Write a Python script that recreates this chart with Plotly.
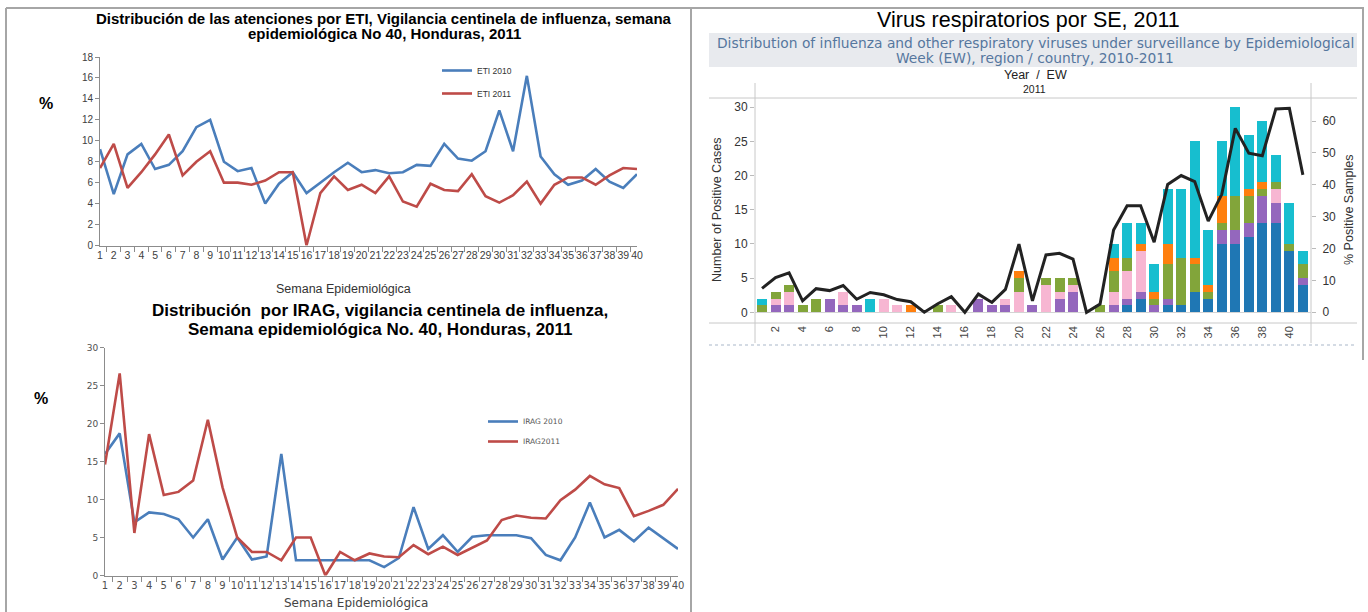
import plotly.graph_objects as go

W, H = 1368, 612


def PX(x):
    return x / W


def PY(y):
    return 1 - y / H


# ---------------- data: ETI (top-left) ----------------
weeks_40 = list(range(1, 41))
eti_2010 = [9.2, 4.9, 8.7, 9.7, 7.3, 7.7, 9.0, 11.3, 12.0, 8.0,
            7.1, 7.4, 4.0, 5.9, 7.0, 5.0, 6.0, 7.0, 7.9, 7.0,
            7.2, 6.9, 7.0, 7.7, 7.6, 9.7, 8.3, 8.1, 9.0, 12.9,
            9.0, 16.2, 8.5, 6.8, 5.8, 6.2, 7.3, 6.1, 5.5, 6.8]
eti_2011 = [7.4, 9.7, 5.5, 7.0, 8.7, 10.6, 6.7, 8.0, 9.0, 6.0,
            6.0, 5.8, 6.2, 7.0, 7.0, 0.0, 5.0, 6.6, 5.3, 5.8,
            5.0, 6.6, 4.2, 3.7, 5.9, 5.3, 5.2, 6.8, 4.7, 4.1,
            4.8, 6.1, 4.0, 5.8, 6.5, 6.5, 5.8, 6.7, 7.4, 7.3]

# ---------------- data: IRAG (bottom-left) ----------------
irag_2010 = [16.0, 18.7, 7.0, 8.3, 8.1, 7.4, 5.0, 7.4, 2.1, 5.0,
             2.1, 2.5, 16.0, 2.0, 2.0, 2.0, 2.0, 2.0, 2.0, 1.1,
             2.3, 9.0, 3.5, 5.3, 3.1, 5.1, 5.3, 5.3, 5.3, 4.9,
             2.7, 2.0, 5.0, 9.6, 5.0, 6.0, 4.5, 6.3, 4.9, 3.5]
irag_2011 = [14.6, 26.6, 5.6, 18.6, 10.6, 11.0, 12.5, 20.5, 11.6, 5.0,
             3.1, 3.1, 2.0, 5.0, 5.0, 0.0, 3.1, 2.0, 2.9, 2.5,
             2.4, 4.0, 2.8, 3.8, 2.7, 3.6, 4.6, 7.3, 7.9, 7.6,
             7.5, 9.9, 11.3, 13.1, 12.0, 11.5, 7.8, 8.5, 9.3, 11.4]

# ---------------- data: respiratory viruses (right) ----------------
ew = list(range(1, 42))
v_blue = [0, 0, 0, 0, 0, 0, 0, 0, 0, 0,
          0, 0, 0, 0, 0, 0, 0, 0, 0, 0,
          0, 0, 0, 0, 0, 0, 0, 1, 2, 0,
          1, 1, 3, 2, 10, 10, 11, 13, 13, 9, 4]
v_purple = [0, 1, 1, 0, 0, 2, 1, 1, 0, 0,
            0, 0, 0, 0, 0, 0, 2, 1, 1, 0,
            1, 0, 2, 3, 0, 0, 1, 1, 1, 1,
            1, 0, 0, 0, 2, 2, 2, 4, 3, 0, 1]
v_pink = [0, 1, 2, 0, 0, 0, 2, 0, 0, 2,
          1, 0, 0, 0, 1, 0, 0, 0, 1, 3,
          0, 4, 1, 1, 0, 0, 2, 4, 6, 0,
          0, 0, 0, 0, 0, 0, 0, 0, 2, 0, 0]
v_green = [1, 1, 1, 1, 2, 0, 0, 0, 0, 0,
           0, 0, 0, 1, 0, 0, 0, 0, 0, 2,
           0, 1, 2, 1, 0, 1, 3, 2, 0, 1,
           5, 7, 4, 1, 1, 5, 4, 1, 1, 1, 2]
v_orange = [0, 0, 0, 0, 0, 0, 0, 0, 0, 0,
            0, 1, 0, 0, 0, 0, 0, 0, 0, 1,
            0, 0, 0, 0, 0, 0, 2, 0, 1, 1,
            3, 0, 1, 1, 4, 0, 1, 1, 0, 0, 0]
v_cyan = [1, 0, 0, 0, 0, 0, 0, 0, 2, 0,
          0, 0, 0, 0, 0, 0, 0, 0, 0, 0,
          0, 0, 0, 0, 0, 0, 2, 5, 3, 4,
          8, 10, 17, 8, 8, 13, 8, 9, 4, 6, 2]
pct_positive = [7.5, 10.9, 12.4, 3.6, 7.4, 6.8, 8.4, 4.1, 6.2, 5.5,
                4.0, 3.3, 0.0, 2.7, 4.9, 0.0, 5.7, 3.1, 7.2, 21.4,
                3.6, 18.0, 18.5, 16.7, 0.0, 2.6, 25.8, 33.4, 33.4, 22.0,
                40.1, 42.9, 41.0, 28.6, 37.0, 57.7, 49.9, 49.1, 63.8, 64.0, 43.1]

virus_series = [
    ("A(H3N2)", v_blue, "#1f77b4"),
    ("A(H1N1)pdm09", v_purple, "#9467bd"),
    ("B", v_pink, "#f7b6d2"),
    ("Parainfluenza", v_green, "#82a53a"),
    ("Adenovirus", v_orange, "#ff7f0e"),
    ("VSR", v_cyan, "#17becf"),
]

BLUE = "#4a7ebb"
RED = "#be4b48"
SANS = "Liberation Sans, Arial, sans-serif"
NARROW = "Liberation Sans Narrow, Arial Narrow, Liberation Sans, sans-serif"
VERD = "DejaVu Sans, Verdana, sans-serif"

fig = go.Figure()

# ETI
fig.add_trace(go.Scatter(x=[str(w) for w in weeks_40], y=eti_2010, mode="lines", name="ETI 2010",
                         line=dict(color=BLUE, width=2.6), xaxis="x", yaxis="y",
                         legend="legend", legendgroup="a"))
fig.add_trace(go.Scatter(x=[str(w) for w in weeks_40], y=eti_2011, mode="lines", name="ETI 2011",
                         line=dict(color=RED, width=2.6), xaxis="x", yaxis="y",
                         legend="legend", legendgroup="b"))
# IRAG
fig.add_trace(go.Scatter(x=[str(w) for w in weeks_40], y=irag_2010, mode="lines", name="IRAG 2010",
                         line=dict(color=BLUE, width=2.6), xaxis="x2", yaxis="y2",
                         legend="legend2", legendgroup="c"))
fig.add_trace(go.Scatter(x=[str(w) for w in weeks_40], y=irag_2011, mode="lines", name="IRAG2011",
                         line=dict(color=RED, width=2.6), xaxis="x2", yaxis="y2",
                         legend="legend2", legendgroup="d"))
# Viruses
for name, vals, col in virus_series:
    fig.add_trace(go.Bar(x=ew, y=vals, name=name, marker=dict(color=col, line=dict(width=0)),
                         width=0.74, xaxis="x3", yaxis="y3", showlegend=False))
fig.add_trace(go.Scatter(x=ew, y=pct_positive, mode="lines", name="% Positive Samples",
                         line=dict(color="#222222", width=3), xaxis="x3", yaxis="y4",
                         showlegend=False))

axis_gray = "#8c8c8c"
fig.update_layout(
    width=W, height=H,
    margin=dict(l=0, r=0, t=0, b=0, autoexpand=False),
    paper_bgcolor="white", plot_bgcolor="rgba(0,0,0,0)",
    barmode="stack", bargap=0,
    xaxis=dict(domain=[PX(100), PX(637)], anchor="y", type="category",
               showline=True, linecolor=axis_gray, linewidth=1,
               ticks="outside", tickson="boundaries", ticklen=5, tickcolor=axis_gray,
               tickangle=0,
               tickfont=dict(family=SANS, size=10.5, color="#404040"),
               showgrid=False, zeroline=False),
    yaxis=dict(domain=[PY(245.5), PY(57)], anchor="x", range=[0, 18], dtick=2,
               showline=True, linecolor=axis_gray, linewidth=1,
               ticks="outside", ticklen=4, tickcolor=axis_gray,
               tickfont=dict(family=SANS, size=10, color="#404040"),
               showgrid=False, zeroline=False),
    xaxis2=dict(domain=[PX(105), PX(678)], anchor="y2", type="category",
                showline=True, linecolor=axis_gray, linewidth=1,
                ticks="outside", tickson="boundaries", ticklen=5, tickcolor=axis_gray,
                tickangle=0,
                tickfont=dict(family=VERD, size=10, color="#505050"),
                showgrid=False, zeroline=False),
    yaxis2=dict(domain=[PY(575.5), PY(347.5)], anchor="x2", range=[0, 30], dtick=5,
                showline=True, linecolor=axis_gray, linewidth=1,
                ticks="outside", ticklen=4, tickcolor=axis_gray,
                tickfont=dict(family=VERD, size=9, color="#505050"),
                showgrid=False, zeroline=False),
    xaxis3=dict(domain=[PX(755), PX(1311)], anchor="y3", range=[0.48, 41.6],
                tickvals=ew[1::2], tickangle=-90, ticks="",
                tickfont=dict(family=SANS, size=11, color="#444"),
                showline=False, showgrid=False, zeroline=False),
    yaxis3=dict(domain=[PY(323), PY(98)], anchor="x3", range=[-1.566, 31.36],
                tickvals=list(range(0, 31, 5)), ticks="outside", ticklen=4, tickcolor="#bbbbbb",
                tickfont=dict(family=SANS, size=12, color="#333"),
                showline=False, showgrid=False, zeroline=True, zerolinecolor="#d4d4d4",
                zerolinewidth=1),
    yaxis4=dict(overlaying="y3", anchor="x3", side="right", range=[-3.36, 67.22],
                tickvals=list(range(0, 61, 10)), ticks="outside", ticklen=4, tickcolor="#bbbbbb",
                ticklabelstandoff=4,
                tickfont=dict(family=SANS, size=12, color="#333"),
                showline=False, showgrid=False, zeroline=False),
    legend=dict(x=PX(437), y=PY(56), xanchor="left", yanchor="top",
                bgcolor="rgba(0,0,0,0)", borderwidth=0,
                font=dict(family=SANS, size=8.5, color="#333"),
                traceorder="grouped", tracegroupgap=4, itemwidth=30),
    legend2=dict(x=PX(483), y=PY(407), xanchor="left", yanchor="top",
                 bgcolor="rgba(0,0,0,0)", borderwidth=0,
                 font=dict(family=VERD, size=7.5, color="#555"),
                 traceorder="grouped", tracegroupgap=1, itemwidth=30),
    showlegend=True,
)

border = "#a6a6a6"
shapes = [
    dict(type="line", xref="paper", yref="paper", x0=PX(6), x1=PX(1364), y0=PY(8), y1=PY(8),
         line=dict(color=border, width=2)),
    dict(type="line", xref="paper", yref="paper", x0=PX(6), x1=PX(6), y0=PY(8), y1=PY(612),
         line=dict(color=border, width=2)),
    dict(type="line", xref="paper", yref="paper", x0=PX(691), x1=PX(691), y0=PY(8), y1=PY(612),
         line=dict(color=border, width=2)),
    dict(type="line", xref="paper", yref="paper", x0=PX(1363), x1=PX(1363), y0=PY(8), y1=PY(360),
         line=dict(color=border, width=2)),
    # subtitle box
    dict(type="rect", xref="paper", yref="paper", x0=PX(709), x1=PX(1357), y0=PY(67), y1=PY(33),
         fillcolor="#e8eaee", line=dict(width=0), layer="below"),
    # Tableau pane lines
    dict(type="line", xref="paper", yref="paper", x0=PX(709), x1=PX(1357), y0=PY(98), y1=PY(98),
         line=dict(color="#c8c8c8", width=1)),
    dict(type="line", xref="paper", yref="paper", x0=PX(709), x1=PX(1357), y0=PY(323), y1=PY(323),
         line=dict(color="#c8c8c8", width=1)),
    dict(type="line", xref="paper", yref="paper", x0=PX(755), x1=PX(755), y0=PY(83), y1=PY(343),
         line=dict(color="#c8c8c8", width=1)),
    dict(type="line", xref="paper", yref="paper", x0=PX(1311), x1=PX(1311), y0=PY(83), y1=PY(343),
         line=dict(color="#c8c8c8", width=1)),
    dict(type="line", xref="paper", yref="paper", x0=PX(709), x1=PX(1357), y0=PY(345), y1=PY(345),
         line=dict(color="#a9b7c9", width=1, dash="dot")),
]
fig.update_layout(shapes=shapes)


def ann(text, x, y, size, family=SANS, color="#000", bold=False, angle=0, xanchor="center"):
    t = f"<b>{text}</b>" if bold else text
    return dict(text=t, x=PX(x), y=PY(y), xref="paper", yref="paper", showarrow=False,
                xanchor=xanchor, yanchor="middle", textangle=angle,
                font=dict(family=family, size=size, color=color))


annotations = [
    ann("Distribución de las atenciones por ETI, Vigilancia centinela de influenza, semana", 384, 18, 15, bold=True),
    ann("epidemiológica No 40, Honduras, 2011", 384, 33, 15, bold=True),
    ann("%", 46, 103, 16, bold=True),
    ann("Semana Epidemiológica", 343, 289, 12.5, color="#333"),
    ann("Distribución  por IRAG, vigilancia centinela de influenza,", 380, 310, 17, bold=True),
    ann("Semana epidemiológica No. 40, Honduras, 2011", 380, 329, 17, bold=True),
    ann("%", 41, 398, 16, bold=True),
    ann("Semana Epidemiológica", 356, 603, 12, family=VERD, color="#444"),
    ann("Virus respiratorios por SE, 2011", 1028, 20, 21.5, family=NARROW, color="#000"),
    ann("Distribution of influenza and other respiratory viruses under surveillance by Epidemiological",
        1035, 43, 13.8, family=VERD, color="#56779e"),
    ann("Week (EW), region / country, 2010-2011", 1035, 58.5, 13.8, family=VERD, color="#56779e"),
    ann("Year  /  EW", 1035, 75, 12.5, color="#222"),
    ann("2011", 1034, 89, 10.5, color="#222"),
    ann("Number of Positive Cases", 717, 210, 12.5, color="#333", angle=-90),
    ann("% Positive Samples", 1349, 210, 12.5, color="#333", angle=-90),
]
fig.update_layout(annotations=annotations)

fig.write_html("out.html",
               config={"displayModeBar": False},
               post_script="document.body.style.margin='0';document.body.style.overflow='hidden';")
